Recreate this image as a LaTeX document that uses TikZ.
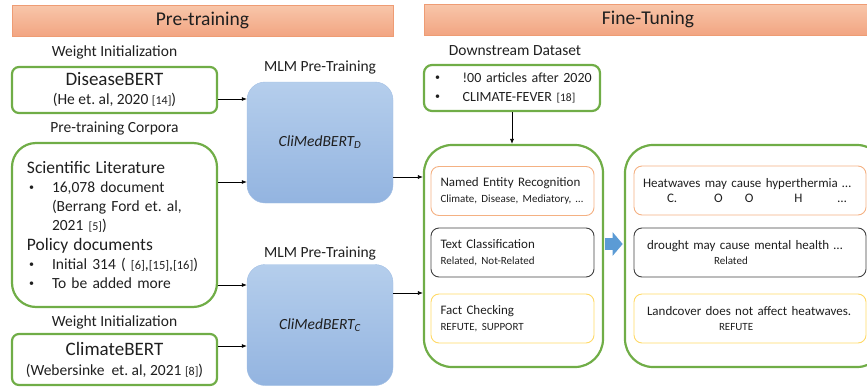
\documentclass[tikz,border=0pt]{standalone}
\usepackage{fontspec}
\setmainfont{Carlito}
\usetikzlibrary{positioning,arrows.meta}
\definecolor{Ink}{HTML}{1F1F1F}
\definecolor{Leaf}{HTML}{70AD47}
\definecolor{HeadTop}{HTML}{F8C6AA}
\definecolor{HeadBot}{HTML}{F2A582}
\definecolor{HeadEdge}{HTML}{EE9C74}
\definecolor{SkyTop}{HTML}{B5CEEC}
\definecolor{SkyBot}{HTML}{93B4E0}
\definecolor{SkyEdge}{HTML}{A2BFE4}
\definecolor{Sky}{HTML}{5B9BD5}
\definecolor{Peach}{HTML}{F4B183}
\definecolor{Slate}{HTML}{404040}
\definecolor{Butter}{HTML}{FFD966}
\newcommand{\fsz}[2]{\fontsize{#1}{#2}\selectfont}
\newcommand{\refno}[2][12]{{\fontsize{#1}{#1}\selectfont[#2]}}
\newcommand{\bul}[1][2pt]{\hspace*{#1}\makebox[23pt][l]{\raisebox{1.6pt}{\fontsize{10}{10}\selectfont\textbullet}}}
\newcommand{\ind}{\hspace*{25pt}}
\frenchspacing

\begin{document}
\begin{tikzpicture}[
    x=1pt,y=-1pt,
    every node/.style={text=Ink},
    phase/.style={draw=HeadEdge,top color=HeadTop,bottom color=HeadBot,minimum height=31pt,font=\fsz{19.5}{22}},
    caption/.style={font=\fsz{15.5}{18},inner sep=0pt,text height=11pt,text depth=0pt},
    source/.style={draw=Leaf,line width=2.2pt,rounded corners=7pt,align=center},
    model/.style={draw=SkyEdge,top color=SkyTop,bottom color=SkyBot,rounded corners=18pt,minimum width=146pt,minimum height=121pt,font=\fsz{15.5}{18}\itshape},
    stage/.style={draw=Leaf,line width=2.2pt,rounded corners=28pt,minimum height=222pt},
    task/.style={rounded corners=8pt,line width=0.9pt,minimum height=49pt,align=left,inner xsep=9.5pt,font=\fsz{13}{15.5}},
    conn/.style={draw=black,line width=0.7pt,-{Latex[length=5pt,width=4pt]}},
    bigarrow/.style={draw=Sky,line width=12pt,-{Triangle[length=10pt,width=23pt]}}
  ]
    \useasboundingbox (0,0) rectangle (867,386);
    % phase headers
    \node[phase,minimum width=381pt] (pre) at (202.5,20.5) {Pre-training};
    \node[phase,minimum width=448pt] (fine) at (648,19.5) {Fine-Tuning};
    % pre-training inputs
    \node[source,minimum width=205pt,minimum height=46pt,font=\fsz{19}{19}] (dis) at (114.5,90)
      {DiseaseBERT\\\fsz{15.5}{19}(He et. al, 2020 \refno{14})};
    \node[source,rounded corners=24pt,minimum height=164pt,text width=175pt,inner xsep=15pt,align=left,font=\fsz{15.5}{19.2}] (corp) at (114.5,225)
      {{\fsz{17.5}{19.2}Scientific Literature}\\
       \bul 16,078 document\\
       \ind (Berrang Ford et. al,\\
       \ind 2021 \refno{5})\\
       {\fsz{17.5}{19.2}Policy documents}\\
       \bul Initial 314 ( \refno[12.5]{6},\refno[12.5]{15},\refno[12.5]{16})\\
       \bul To be added more};
    \node[source,minimum width=205pt,minimum height=51pt,font=\fsz{19}{20}] (clim) at (114.5,359.5)
      {ClimateBERT\\\fsz{15.5}{20}(Webersinke\ \ et. al, 2021 \refno{8})};
    \node[caption,above=9pt of dis] (wi1) {Weight Initialization};
    \node[caption,above=9pt of corp] (ptc) {Pre-training Corpora};
    \node[caption,above=6pt of clim] (wi2) {Weight Initialization};
    % models
    \node[model] (mlmD) at (320,142.5) {CliMedBERT\textsubscript{D}};
    \node[model] (mlmC) at (320,325) {CliMedBERT\textsubscript{C}};
    \node[caption,above=10pt of mlmD] (mlm1) {MLM Pre-Training};
    \node[caption,above=7pt of mlmC] (mlm2) {MLM Pre-Training};
    % fine-tuning
    \node[source,rounded corners=8pt,minimum height=46pt,text width=162pt,inner xsep=7pt,align=left,font=\fsz{14}{19}] (ds) at (512,88)
      {\bul[4pt] !00 articles after 2020\\\bul[4pt] CLIMATE-FEVER \refno[11.5]{18}};
    \node[caption,above=8pt of ds,xshift=3pt] (dsl) {Downstream Dataset};
    \node[stage,minimum width=179pt] (ft) at (513.5,256) {};
    \node[stage,minimum width=260pt] (res) at (755,256) {};
    \node[task,draw=Peach,text width=144pt] (ner) at (512.5,191)
      {Named Entity Recognition\\\fsz{11}{15.5}Climate, Disease, Mediatory, …};
    \node[task,draw=Slate,text width=144pt] (tc) at (512.5,252.5)
      {Text Classification\\\fsz{11}{15.5}Related, Not-Related};
    \node[task,draw=Butter,text width=144pt] (fc) at (512.5,318.5)
      {Fact Checking\\\fsz{11}{15.5}REFUTE, SUPPORT};
    \node[task,draw=Peach,text width=214pt,inner xsep=9pt] (hw) at (750,190.5)
      {Heatwaves may cause hyperthermia …\\
       \hspace*{24pt}C.\hspace*{37pt}O\hspace*{22pt}O\hspace*{41pt}H\hspace*{35pt}…};
    \node[task,draw=Slate,text width=214pt,inner xsep=9pt] (dr) at (750,252.5)
      {\hspace*{4pt}drought may cause mental health …\\\fsz{11}{15.5}\hspace*{71pt}Related};
    \node[task,draw=Butter,text width=214pt,inner xsep=9pt] (lc) at (750,318.5)
      {\hspace*{4pt}Landcover does not affect heatwaves.\\\fsz{11}{15.5}\hspace*{76pt}REFUTE};
    % connectors
    \coordinate (p1) at ([yshift=-9pt]dis.east);
    \coordinate (p2) at ([yshift=43pt]corp.east);
    \coordinate (p3) at ([yshift=-60pt]corp.east);
    \coordinate (p4) at ([yshift=13.5pt]clim.east);
    \coordinate (p5) at ([yshift=-34.5pt]mlmD.east);
    \coordinate (p6) at ([yshift=32pt]mlmC.east);
    \coordinate (p7) at ([xshift=1.2pt,yshift=12pt]ft.east);
    \draw[conn] (p1) -- (p1 -| mlmD.west);
    \draw[conn] (p2) -- (p2 -| mlmD.west);
    \draw[conn] (p3) -- (p3 -| mlmC.west);
    \draw[conn] (p4) -- (p4 -| mlmC.west);
    \draw[conn] (p5) -- (p5 -| ft.west);
    \draw[conn] (p6) -- (p6 -| ft.west);
    \draw[conn] (ds.south) -- (ds.south |- ft.north);
    \draw[bigarrow,shorten >=1.2pt] (p7) -- (p7 -| res.west);
\end{tikzpicture}
\end{document}
